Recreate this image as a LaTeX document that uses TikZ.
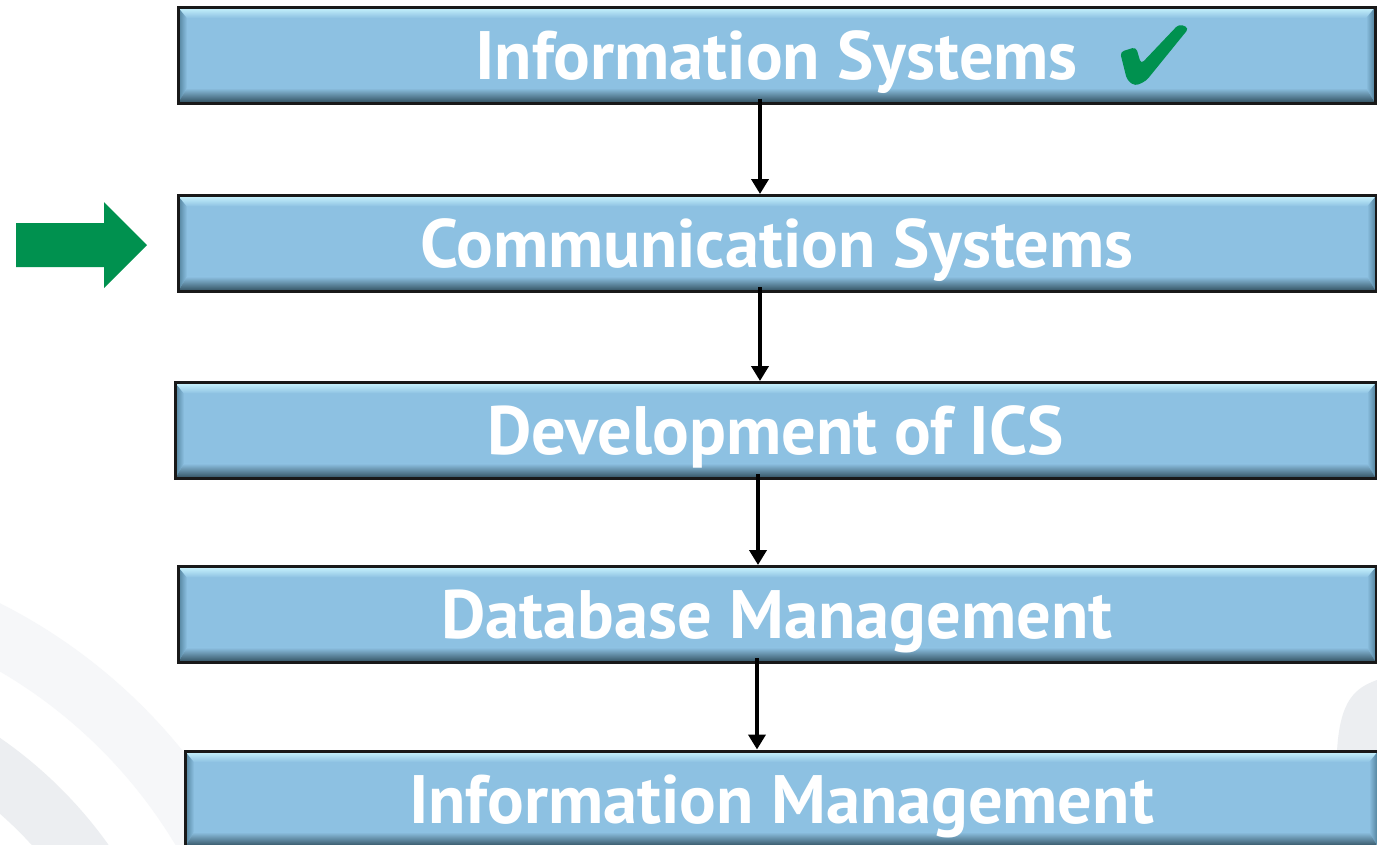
\documentclass[tikz,border=0pt]{standalone}
\usepackage{fontspec}
\setmainfont{PT Sans}
\usetikzlibrary{arrows.meta}
\definecolor{boxblue}{HTML}{8DC1E2}
\definecolor{bevtop}{HTML}{CBF6FF}
\definecolor{bevbot}{HTML}{2F4D5C}
\definecolor{bevside}{HTML}{4F7F99}
\definecolor{markgreen}{HTML}{00914F}
\definecolor{wmlight}{HTML}{F6F7F9}
\definecolor{wmdark}{HTML}{ECEEF1}

\begin{document}
\begin{tikzpicture}[x=1pt,y=-1pt,
    stage/.style={rectangle, draw=black!90, line width=3pt, fill=boxblue, inner sep=0pt,
      minimum height=96pt, text=white, text height=48pt, text depth=0pt,
      font=\bfseries\fontsize{68.5}{68.5}\selectfont,
      path picture={
        \path (path picture bounding box.north west) coordinate (pnw)
              (path picture bounding box.north east) coordinate (pne)
              (path picture bounding box.south west) coordinate (psw)
              (path picture bounding box.south east) coordinate (pse);
        \shade[left color=bevside, right color=boxblue] (pnw) -- ([xshift=9pt,yshift=-11pt]pnw) -- ([xshift=9pt,yshift=15pt]psw) -- (psw) -- cycle;
        \shade[left color=boxblue, right color=bevside] (pne) -- ([xshift=-9pt,yshift=-11pt]pne) -- ([xshift=-9pt,yshift=15pt]pse) -- (pse) -- cycle;
        \shade[top color=bevtop, bottom color=boxblue] (pnw) -- (pne) -- ([xshift=-9pt,yshift=-11pt]pne) -- ([xshift=9pt,yshift=-11pt]pnw) -- cycle;
        \shade[top color=boxblue, bottom color=bevbot] ([xshift=9pt,yshift=15pt]psw) -- ([xshift=-9pt,yshift=15pt]pse) -- (pse) -- (psw) -- cycle;
      }},
    flow/.style={-{Triangle[width=17pt,length=15pt]}, line width=4.5pt}]
  \useasboundingbox[fill=white] (0,0) rectangle (1377,844);

  % faint background marks
  \fill[wmlight, even odd rule] (-250,1100) circle (556pt) (-250,1100) circle (496pt);
  \fill[wmdark, even odd rule] (-250,1100) circle (440pt) (-250,1100) circle (380pt);
  \fill[wmdark] (1377,680) .. controls (1355,688) and (1340,700) .. (1337,751) -- (1377,751) -- cycle;

  \node[stage, minimum width=1197pt] (infosys) at (776.5,55) {Information Systems};
  \node[stage, minimum width=1198pt] (commsys) at (777,243.5) {Communication Systems};
  \node[stage, minimum width=1201pt] (devics) at (775.5,430.5) {Development of ICS};
  \node[stage, minimum width=1198pt] (dbman) at (777,614.5) {Database Management};
  \node[stage, minimum width=1193pt] (infoman) at (781.5,799) {Information Management};

  \draw[flow] ([xshift=-16.5pt,yshift=6pt]infosys.south) -- ([xshift=-17pt]commsys.north);
  \draw[flow] ([xshift=-17pt,yshift=6pt]commsys.south) -- ([xshift=-15.5pt]devics.north);
  \draw[flow] ([xshift=-17.5pt,yshift=6pt]devics.south) -- ([xshift=-19pt]dbman.north);
  \draw[flow] ([xshift=-20pt,yshift=6pt]dbman.south) -- ([xshift=-24.5pt]infoman.north);

  % done mark and current pointer
  \fill[markgreen, rounded corners=4pt] (1120,52) -- (1136,47) -- (1141,64) -- (1179,24) -- (1189,28)
    -- (1146,81) -- (1135,86) -- (1127,80) -- cycle;
  \fill[markgreen] (16,223) -- (104,223) -- (104,202) -- (147,245) -- (104,288) -- (104,267) -- (16,267) -- cycle;
\end{tikzpicture}
\end{document}
